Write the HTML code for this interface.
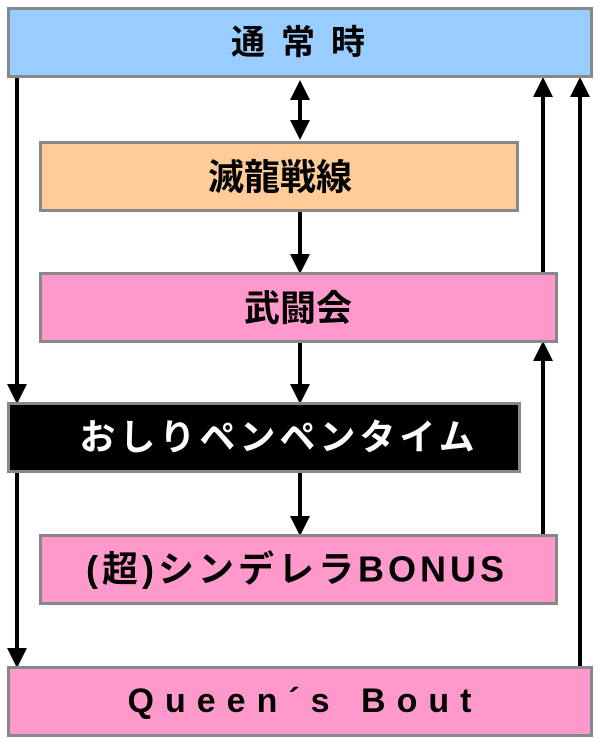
<!DOCTYPE html>
<html><head><meta charset="utf-8"><style>
html,body{margin:0;padding:0;background:#fff;width:600px;height:744px;overflow:hidden}
svg text{font-family:"Liberation Sans","Noto Sans CJK JP",sans-serif;font-weight:bold;text-anchor:middle;dominant-baseline:central}
</style></head><body>
<svg width="600" height="744" viewBox="0 0 600 744" xmlns="http://www.w3.org/2000/svg">
<defs>
<marker id="a" markerWidth="5" markerHeight="5" refX="4" refY="2.5" orient="auto" markerUnits="strokeWidth">
<path d="M0,0 L5,2.5 L0,5 Z" fill="#000"/></marker>
</defs>
<g stroke="#000" stroke-width="4" fill="none">
<line x1="17" y1="78" x2="17" y2="400" marker-end="url(#a)"/>
<line x1="17" y1="472" x2="17" y2="664" marker-end="url(#a)"/>
<line x1="300" y1="100" x2="300" y2="120"/>
<path d="M290,100 L300,80 L310,100 Z M290,120 L300,140 L310,120 Z" fill="#000" stroke="none"/>
<line x1="300" y1="211" x2="300" y2="270" marker-end="url(#a)"/>
<line x1="300" y1="342" x2="300" y2="400" marker-end="url(#a)"/>
<line x1="300" y1="472" x2="300" y2="532" marker-end="url(#a)"/>
<line x1="543" y1="272" x2="543" y2="81" marker-end="url(#a)"/>
<line x1="543" y1="534" x2="543" y2="345" marker-end="url(#a)"/>
<line x1="580" y1="666" x2="580" y2="81" marker-end="url(#a)"/>
</g>
<g stroke="#888" stroke-width="3">
<rect x="8.5" y="8.5" width="583" height="68" fill="#99ccff"/>
<rect x="40.5" y="142.5" width="477" height="68" fill="#ffcc99"/>
<rect x="40.5" y="273.5" width="516" height="68" fill="#ff99cc"/>
<rect x="8.5" y="403.5" width="511" height="68" fill="#000"/>
<rect x="40.5" y="535.5" width="516" height="68" fill="#ff99cc"/>
<rect x="8.5" y="667.5" width="583" height="68" fill="#ff99cc"/>
</g>
<text x="306" y="43" font-size="34" letter-spacing="16">通常時</text>
<text x="280" y="177" font-size="36">滅龍戦線</text>
<text x="298" y="308" font-size="36">武闘会</text>
<text x="279" y="437" font-size="36" fill="#fff" letter-spacing="4">おしりペンペンタイム</text>
<text x="297" y="569" font-size="36" letter-spacing="4">(超)シンデレラBONUS</text>
<text x="305" y="701" font-size="34" letter-spacing="11">Queen´s Bout</text>
</svg>
</body></html>
